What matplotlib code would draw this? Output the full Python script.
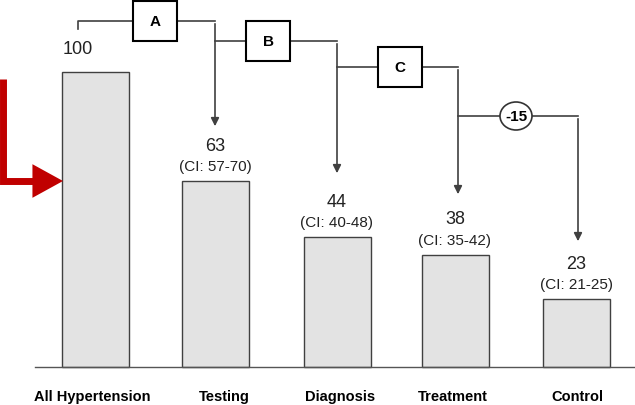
import matplotlib.pyplot as plt
from matplotlib.patches import Rectangle, Ellipse

plt.rcParams['font.family'] = ['Liberation Sans', 'DejaVu Sans']

categories = ['All Hypertension', 'Testing', 'Diagnosis', 'Treatment', 'Control']
values = [100, 63, 44, 38, 23]
ci_labels = ['', '(CI: 57-70)', '(CI: 40-48)', '(CI: 35-42)', '(CI: 21-25)']
step_labels = ['A', 'B', 'C', '-15']

# layout in pixel terms
bar_x = [95, 215, 337, 455, 576]
label_x = [92, 224, 340, 453, 577]
base_y = 368
scale = 2.95  # px per unit

fig = plt.figure(figsize=(6.35, 4.06), dpi=100)
ax = fig.add_axes([0, 0, 1, 1])
ax.set_xlim(0, 635)
ax.set_ylim(-(406 - base_y) / scale, base_y / scale)
ax.axis('off')


def py(y):
    return (base_y - y) / scale


ax.bar(bar_x, values, width=67, color='#e3e3e3', edgecolor='#404040', linewidth=1)
ax.plot([35, 635], [0, 0], color='#555555', lw=1)

# value labels
for i, (v, ci) in enumerate(zip(values, ci_labels)):
    top = base_y - v * scale
    if i == 0:
        ax.text(78, py(50), str(v), ha='center', va='center', fontsize=13, color='#222222')
    else:
        ax.text(bar_x[i], py(top - 36), str(v), ha='center', va='center', fontsize=13, color='#222222')
        ax.text(bar_x[i], py(top - 15), ci, ha='center', va='center', fontsize=11, color='#222222')

for x, name in zip(label_x, categories):
    ax.text(x, py(397), name, ha='center', va='center', fontsize=10.5, fontweight='bold')

# connectors
lc = '#404040'
segs = [
    ([78, 78, 215], [30, 22, 22], 215, 22, 130, (155, 22), 'box'),
    ([215, 337], [42, 42], 337, 42, 177, (268, 42), 'box'),
    ([337, 458], [68, 68], 458, 68, 198, (400, 68), 'box'),
    ([458, 578], [117, 117], 578, 117, 245, (516, 117), 'ellipse'),
]
for (xs, ys, dx, y0, y1, (cx, cy), kind), lab in zip(segs, step_labels):
    ax.plot(xs, [py(y) for y in ys], color=lc, lw=1.2)
    ax.annotate('', xy=(dx, py(y1)), xytext=(dx, py(y0)),
                arrowprops=dict(arrowstyle='-|>', color=lc, lw=1.2, mutation_scale=12))
    if kind == 'box':
        ax.add_patch(Rectangle((cx - 22, py(cy + 20)), 44, 40 / scale,
                               facecolor='white', edgecolor='black', lw=1.5, zorder=3))
    else:
        ax.add_patch(Ellipse((cx, py(cy)), 32, 28 / scale,
                             facecolor='white', edgecolor='#333333', lw=1.2, zorder=3))
    ax.text(cx, py(cy), lab, ha='center', va='center', fontsize=11, fontweight='bold', zorder=4)

# red arrow
red = '#c00000'
ax.plot([3, 3, 42], [py(80), py(182), py(182)], color=red, lw=5,
        solid_joinstyle='miter', solid_capstyle='butt')
ax.annotate('', xy=(63, py(182)), xytext=(38, py(182)),
            arrowprops=dict(arrowstyle='-|>,head_length=1.0,head_width=0.55', color=red, lw=0,
                            mutation_scale=22, shrinkA=0, shrinkB=0))

fig.savefig('out.png', dpi=100)
